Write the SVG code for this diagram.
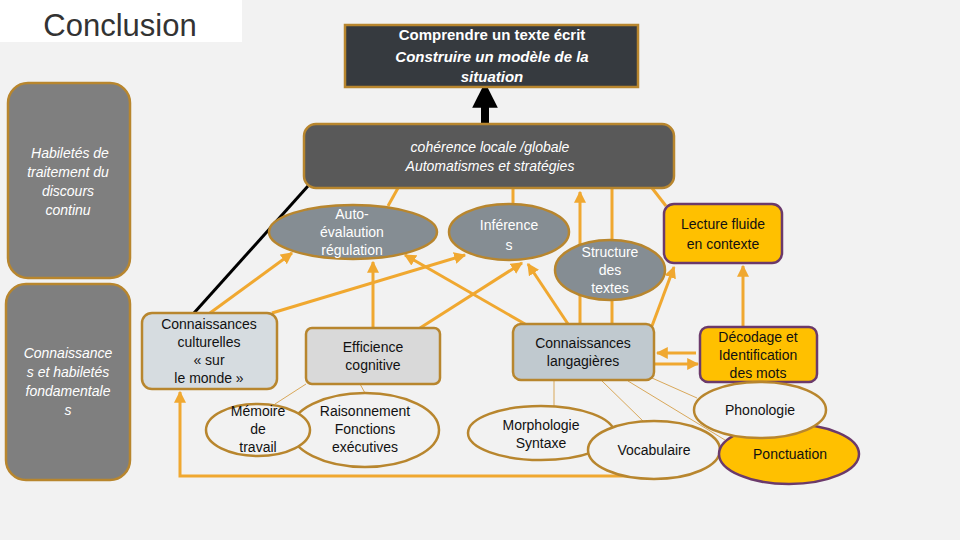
<svg xmlns="http://www.w3.org/2000/svg" width="960" height="540" viewBox="0 0 960 540">
<defs>
<marker id="ao" viewBox="0 0 10 10" refX="9" refY="5" markerWidth="4" markerHeight="4" orient="auto"><path d="M0,0 L10,5 L0,10 z" fill="#f0a830"/></marker>
<marker id="ab" viewBox="0 0 10 10" refX="5" refY="5" markerWidth="3.2" markerHeight="3.2" orient="auto"><path d="M0,0 L10,5 L0,10 z" fill="#000"/></marker>
</defs>
<style>
text{font-family:"Liberation Sans",Arial,sans-serif;font-size:14px;text-anchor:middle}
.w{fill:#fff}.d{fill:#111}.i{font-style:italic}
.br{stroke:#b8862e;stroke-width:2.5}.pu{stroke:#6b3a6b;stroke-width:2.5}
.c{stroke:#f0a830;stroke-width:3;fill:none}.t{stroke:#d9a85a;stroke-width:1;fill:none}
</style>
<rect width="960" height="540" fill="#f2f2f2"/>
<g id="title"><rect x="0" y="0" width="242" height="42" fill="#fff"/><text x="120" y="36" style="font-size:31px;fill:#333">Conclusion</text></g>
<g id="panel1"><rect x="8" y="83" width="122" height="195" rx="20" fill="#7f7f7f" class="br"/>
<text class="w i" x="70"><tspan x="70" y="158">Habiletés de</tspan><tspan x="68" y="177">traitement du</tspan><tspan x="68" y="196">discours</tspan><tspan x="68" y="215">continu</tspan></text></g>
<g id="panel2"><rect x="6" y="284" width="124" height="196" rx="20" fill="#7f7f7f" class="br"/>
<text class="w i"><tspan x="68" y="358">Connaissance</tspan><tspan x="68" y="377">s et habiletés</tspan><tspan x="68" y="396">fondamentale</tspan><tspan x="68" y="415">s</tspan></text></g>
<g id="connectors">
<line x1="485" y1="124" x2="485" y2="95" stroke="#000" stroke-width="8" marker-end="url(#ab)"/>
<line x1="308" y1="186" x2="194" y2="313" stroke="#000" stroke-width="3"/>
<line class="c" x1="388" y1="206" x2="398" y2="188"/>
<line class="c" x1="513" y1="205" x2="513" y2="188"/>
<line class="c" x1="580" y1="324" x2="580" y2="192" marker-end="url(#ao)"/>
<line class="c" x1="612" y1="241" x2="612" y2="188"/>
<line class="c" x1="612" y1="324" x2="612" y2="299"/>
<line class="c" x1="652" y1="188" x2="666" y2="206"/>
<line class="c" x1="210" y1="313" x2="292" y2="253" marker-end="url(#ao)"/>
<line class="c" x1="272" y1="313" x2="465" y2="255" marker-end="url(#ao)"/>
<line class="c" x1="373" y1="328" x2="373" y2="262" marker-end="url(#ao)"/>
<line class="c" x1="420" y1="328" x2="522" y2="263" marker-end="url(#ao)"/>
<line class="c" x1="525" y1="324" x2="405" y2="255" marker-end="url(#ao)"/>
<line class="c" x1="568" y1="324" x2="528" y2="264" marker-end="url(#ao)"/>
<line class="c" x1="652" y1="326" x2="674" y2="267" marker-end="url(#ao)"/>
<line class="c" x1="743" y1="327" x2="743" y2="266" stroke-width="4" marker-end="url(#ao)"/>
<line class="c" x1="696" y1="353" x2="657" y2="353" marker-end="url(#ao)"/>
<line class="c" x1="655" y1="364" x2="698" y2="364" marker-end="url(#ao)"/>
<polyline class="c" points="640,476 180,476 180,392" stroke-width="2" marker-end="url(#ao)"/>
<line class="t" x1="306" y1="384" x2="275" y2="404"/>
<line class="t" x1="360" y1="384" x2="365" y2="393"/>
<line class="t" x1="554" y1="380" x2="554" y2="406"/>
<line class="t" x1="602" y1="381" x2="643" y2="421"/>
<line class="t" x1="628" y1="381" x2="725" y2="440"/>
<line class="t" x1="652" y1="378" x2="697" y2="398"/>
</g>
<g id="top"><rect x="345" y="25" width="293" height="62" fill="#363a3f" class="br"/>
<text class="w" style="font-weight:bold;font-size:15px"><tspan x="492" y="40">Comprendre un texte écrit</tspan><tspan x="492" y="62" font-style="italic">Construire un modèle de la</tspan><tspan x="492" y="82" font-style="italic">situation</tspan></text></g>
<g id="coherence"><rect x="304" y="124" width="370" height="64" rx="12" fill="#595959" class="br"/>
<text class="w i"><tspan x="490" y="152">cohérence locale /globale</tspan><tspan x="490" y="171">Automatismes et  stratégies</tspan></text></g>
<g id="auto"><ellipse cx="353" cy="232" rx="84" ry="27" fill="#858d93" class="br"/>
<text class="w"><tspan x="352" y="219">Auto-</tspan><tspan x="352" y="237">évalaution</tspan><tspan x="352" y="255">régulation</tspan></text></g>
<g id="inference"><ellipse cx="509" cy="232" rx="60" ry="28" fill="#858d93" class="br"/>
<text class="w"><tspan x="509" y="230">Inférence</tspan><tspan x="509" y="250">s</tspan></text></g>
<g id="structure"><ellipse cx="610" cy="270" rx="55" ry="30" fill="#858d93" class="br"/>
<text class="w"><tspan x="610" y="257">Structure</tspan><tspan x="610" y="275">des</tspan><tspan x="610" y="293">textes</tspan></text></g>
<g id="lecture"><rect x="664" y="204" width="118" height="59" rx="10" fill="#ffc000" class="pu"/>
<text class="d"><tspan x="723" y="229">Lecture fluide</tspan><tspan x="723" y="249">en contexte</tspan></text></g>
<g id="culturelles"><rect x="142" y="313" width="135" height="76" rx="10" fill="#d6dce0" class="br"/>
<text class="d"><tspan x="209" y="329">Connaissances</tspan><tspan x="209" y="347">culturelles</tspan><tspan x="209" y="365">« sur</tspan><tspan x="209" y="383">le monde »</tspan></text></g>
<g id="efficience"><rect x="306" y="328" width="134" height="56" rx="6" fill="#d9d9d9" class="br"/>
<text class="d"><tspan x="373" y="352">Efficience</tspan><tspan x="373" y="370">cognitive</tspan></text></g>
<g id="langagieres"><rect x="513" y="324" width="141" height="56" rx="8" fill="#c0c9cf" class="br"/>
<text class="d"><tspan x="583" y="348">Connaissances</tspan><tspan x="583" y="366">langagières</tspan></text></g>
<g id="decodage"><rect x="700" y="327" width="117" height="55" rx="8" fill="#ffc000" class="pu"/>
<text class="d"><tspan x="758" y="342">Décodage et</tspan><tspan x="758" y="360">Identification</tspan><tspan x="758" y="378">des mots</tspan></text></g>
<g id="raisonnement"><ellipse cx="365" cy="430" rx="74" ry="37" fill="#f2f2f2" class="br"/>
<text class="d"><tspan x="365" y="416">Raisonnement</tspan><tspan x="365" y="434">Fonctions</tspan><tspan x="365" y="452">exécutives</tspan></text></g>
<g id="memoire"><ellipse cx="258" cy="430" rx="52" ry="26" fill="#f2f2f2" class="br"/>
<text class="d"><tspan x="258" y="416">Mémoire</tspan><tspan x="258" y="434">de</tspan><tspan x="258" y="452">travail</tspan></text></g>
<g id="morphologie"><ellipse cx="541" cy="433" rx="73" ry="27" fill="#f2f2f2" class="br"/>
<text class="d"><tspan x="541" y="430">Morphologie</tspan><tspan x="541" y="448">Syntaxe</tspan></text></g>
<g id="vocabulaire"><ellipse cx="654" cy="450" rx="66" ry="29" fill="#f2f2f2" class="br"/>
<text class="d" x="654" y="455">Vocabulaire</text></g>
<g id="ponctuation"><ellipse cx="789" cy="454" rx="70" ry="30" fill="#ffc000" class="pu"/>
<text class="d" x="790" y="459">Ponctuation</text></g>
<g id="phonologie"><ellipse cx="760" cy="410" rx="66" ry="28" fill="#f2f2f2" class="br"/>
<text class="d" x="760" y="415">Phonologie</text></g>
</svg>
